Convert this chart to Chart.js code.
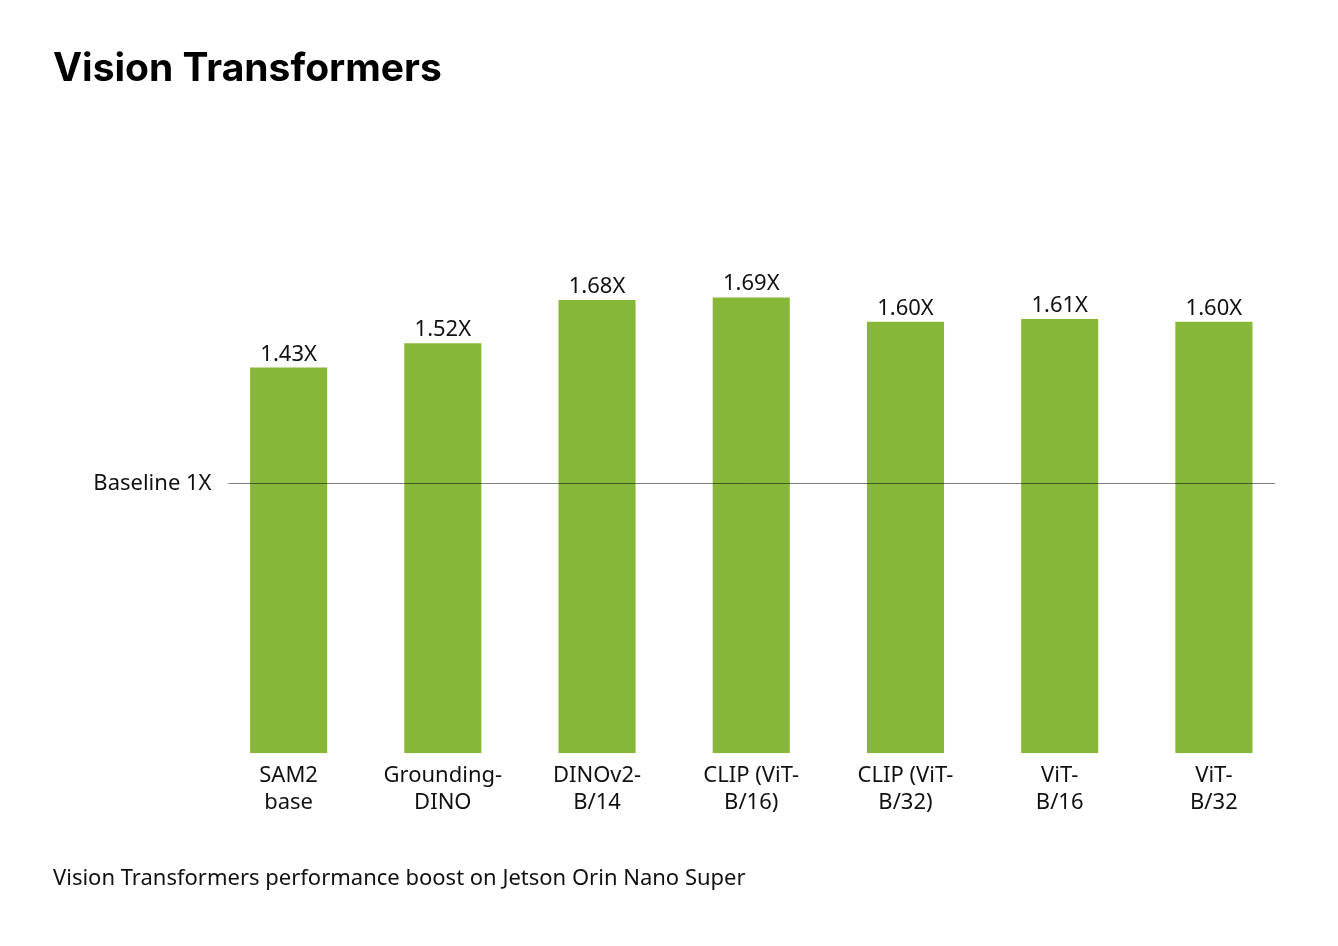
<!DOCTYPE html>
<html>
<head>
<meta charset="utf-8">
<title>Vision Transformers</title>
<script src="https://cdn.jsdelivr.net/npm/chart.js@4.4.1/dist/chart.umd.min.js"></script>
<style>
  html, body { margin: 0; padding: 0; background: #fff; }
  #wrap { width: 1338px; height: 946px; }
</style>
</head>
<body>
<div id="wrap"><canvas id="chart"></canvas></div>
<script>
// data
var models = [['SAM2', 'base'], ['Grounding-', 'DINO'], ['DINOv2-', 'B/14'], ['CLIP (ViT-', 'B/16)'],
              ['CLIP (ViT-', 'B/32)'], ['ViT-', 'B/16'], ['ViT-', 'B/32']];
var speedup = [1.43, 1.52, 1.68, 1.69, 1.60, 1.61, 1.60];
var baseline = 1;
var baselineLabel = 'Baseline 1X';

var green = '#86b738';
var ink = '#111111';
var labelFont = '"Noto Sans", Roboto, sans-serif';

// value labels over the bars + the baseline rule
var barTexts = {
  id: 'barTexts',
  afterDatasetsDraw: function(chart) {
    var ctx = chart.ctx;
    var area = chart.chartArea;
    var y = Math.round(chart.scales.y.getPixelForValue(baseline)) + 0.5;
    ctx.save();
    ctx.strokeStyle = 'rgba(0,0,0,0.5)';
    ctx.lineWidth = 1;
    ctx.beginPath();
    ctx.moveTo(area.left + 17, y);
    ctx.lineTo(area.right - 16, y);
    ctx.stroke();

    ctx.fillStyle = ink;
    ctx.font = '22px ' + labelFont;
    ctx.textAlign = 'center';
    ctx.textBaseline = 'alphabetic';
    chart.getDatasetMeta(0).data.forEach(function(bar, i) {
      ctx.fillText(speedup[i].toFixed(2) + 'X', bar.x, bar.y - 7);
    });
    ctx.restore();
  }
};

var c = document.getElementById('chart').getContext('2d');
var chart = new Chart(c, {
  type: 'bar',
  data: {
    labels: models,
    datasets: [{
      data: speedup,
      backgroundColor: green,
      borderWidth: 0,
      barPercentage: 0.5,
      categoryPercentage: 1
    }]
  },
  options: {
    responsive: true,
    maintainAspectRatio: false,
    animation: false,
    layout: { padding: { left: 53, right: 47, top: 0, bottom: 0 } },
    plugins: {
      legend: { display: false },
      tooltip: { enabled: false },
      title: {
        display: true,
        text: 'Vision Transformers',
        align: 'start',
        color: '#000',
        font: { family: 'Inter, sans-serif', size: 39, weight: '700' },
        padding: { top: 46, bottom: 121 }
      },
      subtitle: {
        display: true,
        position: 'bottom',
        text: 'Vision Transformers performance boost on Jetson Orin Nano Super',
        align: 'start',
        color: ink,
        font: { family: labelFont, size: 22 },
        padding: { top: 41, bottom: 54 }
      }
    },
    scales: {
      x: {
        grid: { display: false, drawTicks: false },
        border: { display: false },
        ticks: {
          color: ink,
          font: { family: labelFont, size: 22, lineHeight: 1.215 },
          padding: 9,
          maxRotation: 0,
          autoSkip: false
        }
      },
      y: {
        min: 0,
        max: 2,
        grid: { display: false, drawTicks: false },
        border: { display: false },
        afterFit: function(axis) { axis.width = 158.5; },
        ticks: {
          stepSize: 1,
          padding: 0,
          color: ink,
          font: { family: labelFont, size: 22 },
          callback: function(v) { return v === baseline ? baselineLabel : ''; }
        }
      }
    }
  },
  plugins: [barTexts]
});
</script>
</body>
</html>
